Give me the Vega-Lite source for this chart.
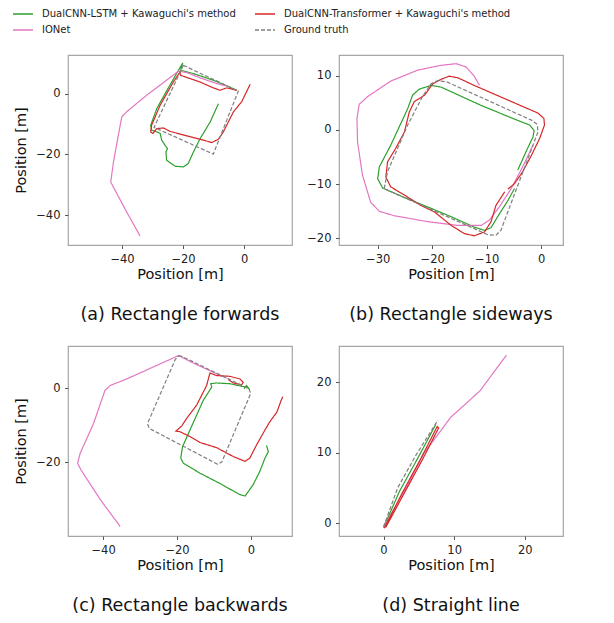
{
"$schema": "https://vega.github.io/schema/vega-lite/v6.json",
"background": "white",
"padding": {"left": 12, "top": 3, "right": 5, "bottom": 5},
"config": {
  "font": "DejaVu Sans",
  "view": {"stroke": "#a6a6a6", "strokeWidth": 1.2},
  "axis": {"domain": false, "grid": false, "tickColor": "#555", "tickSize": 3.5, "tickWidth": 1, "labelFontSize": 11.5, "labelColor": "#222", "labelPadding": 4.5, "titleFontSize": 14.5, "titleFontWeight": "normal", "titleColor": "#111"},
  "axisX": {"titlePadding": 3},
  "axisY": {"titlePadding": 7},
  "legend": {"orient": "none", "legendX": -56, "legendY": -52, "columns": 2, "symbolType": "stroke", "symbolSize": 400, "symbolStrokeWidth": 1.5, "labelFontSize": 10, "labelColor": "#222", "labelLimit": 400, "rowPadding": 0, "columnPadding": 16, "labelOffset": 8, "padding": 0},
  "title": {"fontSize": 17.5, "fontWeight": "normal", "color": "#111"}
},
"datasets": {"traj": [
{"p":"a","s":"DualCNN-LSTM + Kawaguchi's method","i":0,"x":-8.4,"y":-3.3},
{"p":"a","s":"DualCNN-LSTM + Kawaguchi's method","i":1,"x":-11.1,"y":-9.3},
{"p":"a","s":"DualCNN-LSTM + Kawaguchi's method","i":2,"x":-14.4,"y":-14.8},
{"p":"a","s":"DualCNN-LSTM + Kawaguchi's method","i":3,"x":-16.6,"y":-19.2},
{"p":"a","s":"DualCNN-LSTM + Kawaguchi's method","i":4,"x":-18.3,"y":-23.0},
{"p":"a","s":"DualCNN-LSTM + Kawaguchi's method","i":5,"x":-19.9,"y":-24.1},
{"p":"a","s":"DualCNN-LSTM + Kawaguchi's method","i":6,"x":-22.6,"y":-23.9},
{"p":"a","s":"DualCNN-LSTM + Kawaguchi's method","i":7,"x":-25.4,"y":-21.9},
{"p":"a","s":"DualCNN-LSTM + Kawaguchi's method","i":8,"x":-25.6,"y":-19.2},
{"p":"a","s":"DualCNN-LSTM + Kawaguchi's method","i":9,"x":-25.1,"y":-18.1},
{"p":"a","s":"DualCNN-LSTM + Kawaguchi's method","i":10,"x":-25.9,"y":-17.0},
{"p":"a","s":"DualCNN-LSTM + Kawaguchi's method","i":11,"x":-27.0,"y":-15.3},
{"p":"a","s":"DualCNN-LSTM + Kawaguchi's method","i":12,"x":-27.5,"y":-13.1},
{"p":"a","s":"DualCNN-LSTM + Kawaguchi's method","i":13,"x":-28.6,"y":-12.6},
{"p":"a","s":"DualCNN-LSTM + Kawaguchi's method","i":14,"x":-30.3,"y":-12.0},
{"p":"a","s":"DualCNN-LSTM + Kawaguchi's method","i":15,"x":-30.6,"y":-10.4},
{"p":"a","s":"DualCNN-LSTM + Kawaguchi's method","i":16,"x":-28.6,"y":-4.9},
{"p":"a","s":"DualCNN-LSTM + Kawaguchi's method","i":17,"x":-24.3,"y":2.8},
{"p":"a","s":"DualCNN-LSTM + Kawaguchi's method","i":18,"x":-20.1,"y":10.1},
{"p":"a","s":"DualCNN-LSTM + Kawaguchi's method","i":19,"x":-20.8,"y":7.7},
{"p":"a","s":"DualCNN-LSTM + Kawaguchi's method","i":20,"x":-16.6,"y":6.6},
{"p":"a","s":"DualCNN-LSTM + Kawaguchi's method","i":21,"x":-10.1,"y":4.4},
{"p":"a","s":"DualCNN-LSTM + Kawaguchi's method","i":22,"x":-6.2,"y":2.8},
{"p":"a","s":"DualCNN-LSTM + Kawaguchi's method","i":23,"x":-2.4,"y":1.1},
{"p":"a","s":"IONet","i":0,"x":-34.1,"y":-46.8},
{"p":"a","s":"IONet","i":1,"x":-38.5,"y":-38.9},
{"p":"a","s":"IONet","i":2,"x":-43.7,"y":-29.1},
{"p":"a","s":"IONet","i":3,"x":-42.8,"y":-22.5},
{"p":"a","s":"IONet","i":4,"x":-41.2,"y":-13.7},
{"p":"a","s":"IONet","i":5,"x":-40.1,"y":-7.7},
{"p":"a","s":"IONet","i":6,"x":-38.5,"y":-6.0},
{"p":"a","s":"IONet","i":7,"x":-31.9,"y":-0.5},
{"p":"a","s":"IONet","i":8,"x":-25.4,"y":4.4},
{"p":"a","s":"IONet","i":9,"x":-21.5,"y":7.4},
{"p":"a","s":"IONet","i":10,"x":-18.8,"y":6.9},
{"p":"a","s":"IONet","i":11,"x":-14.4,"y":5.2},
{"p":"a","s":"IONet","i":12,"x":-9.0,"y":3.3},
{"p":"a","s":"IONet","i":13,"x":-5.7,"y":2.5},
{"p":"a","s":"DualCNN-Transformer + Kawaguchi's method","i":0,"x":2.0,"y":3.1},
{"p":"a","s":"DualCNN-Transformer + Kawaguchi's method","i":1,"x":-0.8,"y":-2.7},
{"p":"a","s":"DualCNN-Transformer + Kawaguchi's method","i":2,"x":-3.5,"y":-6.0},
{"p":"a","s":"DualCNN-Transformer + Kawaguchi's method","i":3,"x":-6.8,"y":-12.6},
{"p":"a","s":"DualCNN-Transformer + Kawaguchi's method","i":4,"x":-8.4,"y":-15.0},
{"p":"a","s":"DualCNN-Transformer + Kawaguchi's method","i":5,"x":-10.6,"y":-16.1},
{"p":"a","s":"DualCNN-Transformer + Kawaguchi's method","i":6,"x":-14.4,"y":-15.0},
{"p":"a","s":"DualCNN-Transformer + Kawaguchi's method","i":7,"x":-18.8,"y":-13.9},
{"p":"a","s":"DualCNN-Transformer + Kawaguchi's method","i":8,"x":-24.3,"y":-12.4},
{"p":"a","s":"DualCNN-Transformer + Kawaguchi's method","i":9,"x":-26.4,"y":-11.3},
{"p":"a","s":"DualCNN-Transformer + Kawaguchi's method","i":10,"x":-28.6,"y":-11.5},
{"p":"a","s":"DualCNN-Transformer + Kawaguchi's method","i":11,"x":-29.9,"y":-13.1},
{"p":"a","s":"DualCNN-Transformer + Kawaguchi's method","i":12,"x":-30.6,"y":-12.6},
{"p":"a","s":"DualCNN-Transformer + Kawaguchi's method","i":13,"x":-30.3,"y":-10.4},
{"p":"a","s":"DualCNN-Transformer + Kawaguchi's method","i":14,"x":-27.5,"y":-3.8},
{"p":"a","s":"DualCNN-Transformer + Kawaguchi's method","i":15,"x":-23.2,"y":3.8},
{"p":"a","s":"DualCNN-Transformer + Kawaguchi's method","i":16,"x":-21.0,"y":7.1},
{"p":"a","s":"DualCNN-Transformer + Kawaguchi's method","i":17,"x":-20.8,"y":6.0},
{"p":"a","s":"DualCNN-Transformer + Kawaguchi's method","i":18,"x":-19.3,"y":5.5},
{"p":"a","s":"DualCNN-Transformer + Kawaguchi's method","i":19,"x":-14.4,"y":3.8},
{"p":"a","s":"DualCNN-Transformer + Kawaguchi's method","i":20,"x":-10.1,"y":1.9},
{"p":"a","s":"DualCNN-Transformer + Kawaguchi's method","i":21,"x":-7.9,"y":1.1},
{"p":"a","s":"DualCNN-Transformer + Kawaguchi's method","i":22,"x":-5.7,"y":1.9},
{"p":"a","s":"DualCNN-Transformer + Kawaguchi's method","i":23,"x":-2.4,"y":1.1},
{"p":"a","s":"Ground truth","i":0,"x":-19.9,"y":9.3},
{"p":"a","s":"Ground truth","i":1,"x":-1.9,"y":0.8},
{"p":"a","s":"Ground truth","i":2,"x":-10.1,"y":-19.9},
{"p":"a","s":"Ground truth","i":3,"x":-29.5,"y":-11.1},
{"p":"a","s":"Ground truth","i":4,"x":-19.9,"y":9.3},
{"p":"b","s":"DualCNN-LSTM + Kawaguchi's method","i":0,"x":-4.3,"y":-7.4},
{"p":"b","s":"DualCNN-LSTM + Kawaguchi's method","i":1,"x":-2.5,"y":-3.4},
{"p":"b","s":"DualCNN-LSTM + Kawaguchi's method","i":2,"x":-1.5,"y":-1.3},
{"p":"b","s":"DualCNN-LSTM + Kawaguchi's method","i":3,"x":-1.3,"y":-0.1},
{"p":"b","s":"DualCNN-LSTM + Kawaguchi's method","i":4,"x":-2.1,"y":0.9},
{"p":"b","s":"DualCNN-LSTM + Kawaguchi's method","i":5,"x":-3.7,"y":1.5},
{"p":"b","s":"DualCNN-LSTM + Kawaguchi's method","i":6,"x":-11.0,"y":4.5},
{"p":"b","s":"DualCNN-LSTM + Kawaguchi's method","i":7,"x":-18.4,"y":7.9},
{"p":"b","s":"DualCNN-LSTM + Kawaguchi's method","i":8,"x":-20.2,"y":8.2},
{"p":"b","s":"DualCNN-LSTM + Kawaguchi's method","i":9,"x":-22.4,"y":7.5},
{"p":"b","s":"DualCNN-LSTM + Kawaguchi's method","i":10,"x":-23.6,"y":6.4},
{"p":"b","s":"DualCNN-LSTM + Kawaguchi's method","i":11,"x":-24.5,"y":3.9},
{"p":"b","s":"DualCNN-LSTM + Kawaguchi's method","i":12,"x":-27.6,"y":-2.8},
{"p":"b","s":"DualCNN-LSTM + Kawaguchi's method","i":13,"x":-29.7,"y":-6.8},
{"p":"b","s":"DualCNN-LSTM + Kawaguchi's method","i":14,"x":-30.0,"y":-9.0},
{"p":"b","s":"DualCNN-LSTM + Kawaguchi's method","i":15,"x":-29.1,"y":-10.7},
{"p":"b","s":"DualCNN-LSTM + Kawaguchi's method","i":16,"x":-25.7,"y":-12.2},
{"p":"b","s":"DualCNN-LSTM + Kawaguchi's method","i":17,"x":-20.8,"y":-14.2},
{"p":"b","s":"DualCNN-LSTM + Kawaguchi's method","i":18,"x":-16.5,"y":-16.0},
{"p":"b","s":"DualCNN-LSTM + Kawaguchi's method","i":19,"x":-12.3,"y":-17.9},
{"p":"b","s":"DualCNN-LSTM + Kawaguchi's method","i":20,"x":-10.4,"y":-18.5},
{"p":"b","s":"DualCNN-LSTM + Kawaguchi's method","i":21,"x":-9.2,"y":-18.0},
{"p":"b","s":"DualCNN-LSTM + Kawaguchi's method","i":22,"x":-8.0,"y":-16.0},
{"p":"b","s":"DualCNN-LSTM + Kawaguchi's method","i":23,"x":-6.1,"y":-13.0},
{"p":"b","s":"DualCNN-LSTM + Kawaguchi's method","i":24,"x":-4.9,"y":-10.8},
{"p":"b","s":"IONet","i":0,"x":-11.3,"y":8.2},
{"p":"b","s":"IONet","i":1,"x":-12.3,"y":9.9},
{"p":"b","s":"IONet","i":2,"x":-13.8,"y":11.6},
{"p":"b","s":"IONet","i":3,"x":-15.6,"y":12.2},
{"p":"b","s":"IONet","i":4,"x":-18.4,"y":11.9},
{"p":"b","s":"IONet","i":5,"x":-22.7,"y":11.0},
{"p":"b","s":"IONet","i":6,"x":-27.6,"y":9.0},
{"p":"b","s":"IONet","i":7,"x":-31.9,"y":6.1},
{"p":"b","s":"IONet","i":8,"x":-33.4,"y":4.7},
{"p":"b","s":"IONet","i":9,"x":-33.8,"y":2.1},
{"p":"b","s":"IONet","i":10,"x":-33.7,"y":-2.2},
{"p":"b","s":"IONet","i":11,"x":-32.8,"y":-8.3},
{"p":"b","s":"IONet","i":12,"x":-31.3,"y":-13.3},
{"p":"b","s":"IONet","i":13,"x":-29.7,"y":-15.0},
{"p":"b","s":"IONet","i":14,"x":-27.0,"y":-15.8},
{"p":"b","s":"IONet","i":15,"x":-20.8,"y":-16.9},
{"p":"b","s":"IONet","i":16,"x":-15.3,"y":-17.6},
{"p":"b","s":"IONet","i":17,"x":-11.0,"y":-17.6},
{"p":"b","s":"IONet","i":18,"x":-9.5,"y":-16.6},
{"p":"b","s":"IONet","i":19,"x":-7.7,"y":-14.2},
{"p":"b","s":"IONet","i":20,"x":-5.5,"y":-10.8},
{"p":"b","s":"IONet","i":21,"x":-3.4,"y":-6.8},
{"p":"b","s":"IONet","i":22,"x":-1.5,"y":-2.8},
{"p":"b","s":"DualCNN-Transformer + Kawaguchi's method","i":0,"x":-6.7,"y":-11.4},
{"p":"b","s":"DualCNN-Transformer + Kawaguchi's method","i":1,"x":-8.3,"y":-13.9},
{"p":"b","s":"DualCNN-Transformer + Kawaguchi's method","i":2,"x":-9.2,"y":-16.9},
{"p":"b","s":"DualCNN-Transformer + Kawaguchi's method","i":3,"x":-10.4,"y":-18.8},
{"p":"b","s":"DualCNN-Transformer + Kawaguchi's method","i":4,"x":-12.3,"y":-19.5},
{"p":"b","s":"DualCNN-Transformer + Kawaguchi's method","i":5,"x":-14.1,"y":-19.1},
{"p":"b","s":"DualCNN-Transformer + Kawaguchi's method","i":6,"x":-16.5,"y":-17.6},
{"p":"b","s":"DualCNN-Transformer + Kawaguchi's method","i":7,"x":-19.6,"y":-15.1},
{"p":"b","s":"DualCNN-Transformer + Kawaguchi's method","i":8,"x":-22.1,"y":-13.9},
{"p":"b","s":"DualCNN-Transformer + Kawaguchi's method","i":9,"x":-25.1,"y":-12.0},
{"p":"b","s":"DualCNN-Transformer + Kawaguchi's method","i":10,"x":-27.6,"y":-10.5},
{"p":"b","s":"DualCNN-Transformer + Kawaguchi's method","i":11,"x":-28.5,"y":-8.7},
{"p":"b","s":"DualCNN-Transformer + Kawaguchi's method","i":12,"x":-28.2,"y":-5.9},
{"p":"b","s":"DualCNN-Transformer + Kawaguchi's method","i":13,"x":-26.7,"y":-3.4},
{"p":"b","s":"DualCNN-Transformer + Kawaguchi's method","i":14,"x":-25.1,"y":-0.4},
{"p":"b","s":"DualCNN-Transformer + Kawaguchi's method","i":15,"x":-24.2,"y":3.3},
{"p":"b","s":"DualCNN-Transformer + Kawaguchi's method","i":16,"x":-23.3,"y":5.2},
{"p":"b","s":"DualCNN-Transformer + Kawaguchi's method","i":17,"x":-21.4,"y":6.4},
{"p":"b","s":"DualCNN-Transformer + Kawaguchi's method","i":18,"x":-19.9,"y":8.5},
{"p":"b","s":"DualCNN-Transformer + Kawaguchi's method","i":19,"x":-18.4,"y":9.3},
{"p":"b","s":"DualCNN-Transformer + Kawaguchi's method","i":20,"x":-16.9,"y":9.9},
{"p":"b","s":"DualCNN-Transformer + Kawaguchi's method","i":21,"x":-15.3,"y":9.6},
{"p":"b","s":"DualCNN-Transformer + Kawaguchi's method","i":22,"x":-12.3,"y":8.2},
{"p":"b","s":"DualCNN-Transformer + Kawaguchi's method","i":23,"x":-0.6,"y":3.1},
{"p":"b","s":"DualCNN-Transformer + Kawaguchi's method","i":24,"x":0.5,"y":2.1},
{"p":"b","s":"DualCNN-Transformer + Kawaguchi's method","i":25,"x":0.6,"y":0.9},
{"p":"b","s":"DualCNN-Transformer + Kawaguchi's method","i":26,"x":-0.3,"y":-1.6},
{"p":"b","s":"DualCNN-Transformer + Kawaguchi's method","i":27,"x":-1.8,"y":-4.7},
{"p":"b","s":"DualCNN-Transformer + Kawaguchi's method","i":28,"x":-3.4,"y":-7.7},
{"p":"b","s":"DualCNN-Transformer + Kawaguchi's method","i":29,"x":-4.9,"y":-9.9},
{"p":"b","s":"DualCNN-Transformer + Kawaguchi's method","i":30,"x":-6.1,"y":-10.9},
{"p":"b","s":"Ground truth","i":0,"x":-28.8,"y":-10.8},
{"p":"b","s":"Ground truth","i":1,"x":-28.2,"y":-7.7},
{"p":"b","s":"Ground truth","i":2,"x":-24.5,"y":0.9},
{"p":"b","s":"Ground truth","i":3,"x":-21.8,"y":6.1},
{"p":"b","s":"Ground truth","i":4,"x":-20.2,"y":8.5},
{"p":"b","s":"Ground truth","i":5,"x":-19.0,"y":9.1},
{"p":"b","s":"Ground truth","i":6,"x":-17.2,"y":8.8},
{"p":"b","s":"Ground truth","i":7,"x":-1.8,"y":1.8},
{"p":"b","s":"Ground truth","i":8,"x":-0.7,"y":1.0},
{"p":"b","s":"Ground truth","i":9,"x":-0.6,"y":-0.4},
{"p":"b","s":"Ground truth","i":10,"x":-7.4,"y":-18.5},
{"p":"b","s":"Ground truth","i":11,"x":-8.3,"y":-19.4},
{"p":"b","s":"Ground truth","i":12,"x":-9.8,"y":-19.3},
{"p":"b","s":"Ground truth","i":13,"x":-28.2,"y":-11.1},
{"p":"b","s":"Ground truth","i":14,"x":-28.8,"y":-10.8},
{"p":"c","s":"DualCNN-LSTM + Kawaguchi's method","i":0,"x":4.2,"y":-15.5},
{"p":"c","s":"DualCNN-LSTM + Kawaguchi's method","i":1,"x":4.7,"y":-17.2},
{"p":"c","s":"DualCNN-LSTM + Kawaguchi's method","i":2,"x":3.8,"y":-18.9},
{"p":"c","s":"DualCNN-LSTM + Kawaguchi's method","i":3,"x":2.4,"y":-22.5},
{"p":"c","s":"DualCNN-LSTM + Kawaguchi's method","i":4,"x":0.6,"y":-26.1},
{"p":"c","s":"DualCNN-LSTM + Kawaguchi's method","i":5,"x":-1.6,"y":-29.2},
{"p":"c","s":"DualCNN-LSTM + Kawaguchi's method","i":6,"x":-3.0,"y":-28.8},
{"p":"c","s":"DualCNN-LSTM + Kawaguchi's method","i":7,"x":-8.4,"y":-25.8},
{"p":"c","s":"DualCNN-LSTM + Kawaguchi's method","i":8,"x":-13.8,"y":-23.0},
{"p":"c","s":"DualCNN-LSTM + Kawaguchi's method","i":9,"x":-18.3,"y":-20.3},
{"p":"c","s":"DualCNN-LSTM + Kawaguchi's method","i":10,"x":-19.0,"y":-18.9},
{"p":"c","s":"DualCNN-LSTM + Kawaguchi's method","i":11,"x":-18.5,"y":-15.8},
{"p":"c","s":"DualCNN-LSTM + Kawaguchi's method","i":12,"x":-16.9,"y":-12.2},
{"p":"c","s":"DualCNN-LSTM + Kawaguchi's method","i":13,"x":-15.1,"y":-8.2},
{"p":"c","s":"DualCNN-LSTM + Kawaguchi's method","i":14,"x":-12.9,"y":-3.3},
{"p":"c","s":"DualCNN-LSTM + Kawaguchi's method","i":15,"x":-10.6,"y":0.3},
{"p":"c","s":"DualCNN-LSTM + Kawaguchi's method","i":16,"x":-10.9,"y":1.2},
{"p":"c","s":"DualCNN-LSTM + Kawaguchi's method","i":17,"x":-9.3,"y":1.4},
{"p":"c","s":"DualCNN-LSTM + Kawaguchi's method","i":18,"x":-5.7,"y":1.2},
{"p":"c","s":"DualCNN-LSTM + Kawaguchi's method","i":19,"x":-2.5,"y":0.5},
{"p":"c","s":"DualCNN-LSTM + Kawaguchi's method","i":20,"x":-1.2,"y":0.3},
{"p":"c","s":"DualCNN-LSTM + Kawaguchi's method","i":21,"x":-0.5,"y":-0.2},
{"p":"c","s":"DualCNN-LSTM + Kawaguchi's method","i":22,"x":-1.2,"y":0.7},
{"p":"c","s":"DualCNN-LSTM + Kawaguchi's method","i":23,"x":-1.9,"y":-0.2},
{"p":"c","s":"IONet","i":0,"x":-35.4,"y":-37.4},
{"p":"c","s":"IONet","i":1,"x":-40.8,"y":-30.1},
{"p":"c","s":"IONet","i":2,"x":-46.0,"y":-22.1},
{"p":"c","s":"IONet","i":3,"x":-46.9,"y":-20.3},
{"p":"c","s":"IONet","i":4,"x":-46.2,"y":-17.6},
{"p":"c","s":"IONet","i":5,"x":-42.6,"y":-9.6},
{"p":"c","s":"IONet","i":6,"x":-39.5,"y":-0.6},
{"p":"c","s":"IONet","i":7,"x":-38.1,"y":0.7},
{"p":"c","s":"IONet","i":8,"x":-33.6,"y":2.5},
{"p":"c","s":"IONet","i":9,"x":-19.6,"y":8.8},
{"p":"c","s":"IONet","i":10,"x":-15.6,"y":6.8},
{"p":"c","s":"IONet","i":11,"x":-10.2,"y":4.3},
{"p":"c","s":"IONet","i":12,"x":-6.6,"y":2.7},
{"p":"c","s":"DualCNN-Transformer + Kawaguchi's method","i":0,"x":8.6,"y":-2.3},
{"p":"c","s":"DualCNN-Transformer + Kawaguchi's method","i":1,"x":8.1,"y":-3.5},
{"p":"c","s":"DualCNN-Transformer + Kawaguchi's method","i":2,"x":7.0,"y":-6.5},
{"p":"c","s":"DualCNN-Transformer + Kawaguchi's method","i":3,"x":5.1,"y":-9.1},
{"p":"c","s":"DualCNN-Transformer + Kawaguchi's method","i":4,"x":3.8,"y":-11.3},
{"p":"c","s":"DualCNN-Transformer + Kawaguchi's method","i":5,"x":1.5,"y":-15.4},
{"p":"c","s":"DualCNN-Transformer + Kawaguchi's method","i":6,"x":-0.3,"y":-18.9},
{"p":"c","s":"DualCNN-Transformer + Kawaguchi's method","i":7,"x":-1.6,"y":-19.8},
{"p":"c","s":"DualCNN-Transformer + Kawaguchi's method","i":8,"x":-4.8,"y":-18.5},
{"p":"c","s":"DualCNN-Transformer + Kawaguchi's method","i":9,"x":-9.3,"y":-16.1},
{"p":"c","s":"DualCNN-Transformer + Kawaguchi's method","i":10,"x":-13.8,"y":-14.7},
{"p":"c","s":"DualCNN-Transformer + Kawaguchi's method","i":11,"x":-16.5,"y":-13.1},
{"p":"c","s":"DualCNN-Transformer + Kawaguchi's method","i":12,"x":-19.2,"y":-11.8},
{"p":"c","s":"DualCNN-Transformer + Kawaguchi's method","i":13,"x":-20.3,"y":-11.6},
{"p":"c","s":"DualCNN-Transformer + Kawaguchi's method","i":14,"x":-18.7,"y":-10.2},
{"p":"c","s":"DualCNN-Transformer + Kawaguchi's method","i":15,"x":-17.4,"y":-8.2},
{"p":"c","s":"DualCNN-Transformer + Kawaguchi's method","i":16,"x":-14.7,"y":-4.6},
{"p":"c","s":"DualCNN-Transformer + Kawaguchi's method","i":17,"x":-12.0,"y":0.7},
{"p":"c","s":"DualCNN-Transformer + Kawaguchi's method","i":18,"x":-11.1,"y":4.1},
{"p":"c","s":"DualCNN-Transformer + Kawaguchi's method","i":19,"x":-9.3,"y":3.4},
{"p":"c","s":"DualCNN-Transformer + Kawaguchi's method","i":20,"x":-5.7,"y":3.2},
{"p":"c","s":"DualCNN-Transformer + Kawaguchi's method","i":21,"x":-3.0,"y":2.5},
{"p":"c","s":"DualCNN-Transformer + Kawaguchi's method","i":22,"x":-2.1,"y":1.6},
{"p":"c","s":"DualCNN-Transformer + Kawaguchi's method","i":23,"x":-2.5,"y":0.9},
{"p":"c","s":"DualCNN-Transformer + Kawaguchi's method","i":24,"x":-4.8,"y":1.4},
{"p":"c","s":"DualCNN-Transformer + Kawaguchi's method","i":25,"x":-6.1,"y":2.3},
{"p":"c","s":"Ground truth","i":0,"x":-19.6,"y":8.8},
{"p":"c","s":"Ground truth","i":1,"x":-18.7,"y":8.6},
{"p":"c","s":"Ground truth","i":2,"x":-0.5,"y":-0.2},
{"p":"c","s":"Ground truth","i":3,"x":-0.1,"y":-1.5},
{"p":"c","s":"Ground truth","i":4,"x":-7.9,"y":-20.0},
{"p":"c","s":"Ground truth","i":5,"x":-9.0,"y":-20.6},
{"p":"c","s":"Ground truth","i":6,"x":-27.5,"y":-10.9},
{"p":"c","s":"Ground truth","i":7,"x":-28.0,"y":-9.6},
{"p":"c","s":"Ground truth","i":8,"x":-20.5,"y":7.7},
{"p":"c","s":"Ground truth","i":9,"x":-19.6,"y":8.8},
{"p":"d","s":"DualCNN-LSTM + Kawaguchi's method","i":0,"x":0.0,"y":-0.6},
{"p":"d","s":"DualCNN-LSTM + Kawaguchi's method","i":1,"x":2.3,"y":4.6},
{"p":"d","s":"DualCNN-LSTM + Kawaguchi's method","i":2,"x":5.0,"y":9.5},
{"p":"d","s":"DualCNN-LSTM + Kawaguchi's method","i":3,"x":7.4,"y":14.0},
{"p":"d","s":"IONet","i":0,"x":0.0,"y":-0.6},
{"p":"d","s":"IONet","i":1,"x":1.6,"y":2.2},
{"p":"d","s":"IONet","i":2,"x":3.4,"y":5.4},
{"p":"d","s":"IONet","i":3,"x":5.7,"y":9.9},
{"p":"d","s":"IONet","i":4,"x":8.1,"y":13.1},
{"p":"d","s":"IONet","i":5,"x":9.5,"y":15.0},
{"p":"d","s":"IONet","i":6,"x":11.4,"y":16.7},
{"p":"d","s":"IONet","i":7,"x":13.7,"y":18.8},
{"p":"d","s":"IONet","i":8,"x":15.6,"y":21.4},
{"p":"d","s":"IONet","i":9,"x":17.4,"y":23.8},
{"p":"d","s":"DualCNN-Transformer + Kawaguchi's method","i":0,"x":0.1,"y":-0.7},
{"p":"d","s":"DualCNN-Transformer + Kawaguchi's method","i":1,"x":2.6,"y":4.2},
{"p":"d","s":"DualCNN-Transformer + Kawaguchi's method","i":2,"x":5.3,"y":9.2},
{"p":"d","s":"DualCNN-Transformer + Kawaguchi's method","i":3,"x":7.6,"y":13.7},
{"p":"d","s":"DualCNN-Transformer + Kawaguchi's method","i":4,"x":7.8,"y":13.5},
{"p":"d","s":"DualCNN-Transformer + Kawaguchi's method","i":5,"x":5.5,"y":9.0},
{"p":"d","s":"DualCNN-Transformer + Kawaguchi's method","i":6,"x":0.3,"y":-0.6},
{"p":"d","s":"Ground truth","i":0,"x":0.0,"y":-0.5},
{"p":"d","s":"Ground truth","i":1,"x":2.0,"y":5.0},
{"p":"d","s":"Ground truth","i":2,"x":4.5,"y":9.5},
{"p":"d","s":"Ground truth","i":3,"x":7.7,"y":14.6}
]},
"resolve": {"scale": {"x": "independent", "y": "independent", "color": "shared", "strokeDash": "shared"}, "legend": {"color": "shared", "strokeDash": "shared"}},
"columns": 2,
"spacing": {"row": 20, "column": 13},
"concat": [
{
  "width": 224, "height": 190,
  "data": {"name": "traj"},
  "transform": [{"filter": "datum.p == 'a'"}],
  "title": {"text": "(a) Rectangle forwards", "orient": "bottom", "frame": "group", "offset": 25},
  "mark": {"type": "line", "strokeWidth": 1.2, "clip": true},
  "encoding": {
    "x": {"field": "x", "type": "quantitative", "scale": {"domain": [-57.7, 15.7], "nice": false, "zero": false}, "axis": {"values": [-40, -20, 0], "title": "Position [m]"}},
    "y": {"field": "y", "type": "quantitative", "scale": {"domain": [-49.8, 12.7], "nice": false, "zero": false}, "axis": {"values": [-40, -20, 0], "title": "Position [m]"}},
    "color": {"field": "s", "type": "nominal", "scale": {"domain": ["DualCNN-LSTM + Kawaguchi's method", "IONet", "DualCNN-Transformer + Kawaguchi's method", "Ground truth"], "range": ["#2ca02c", "#e377c2", "#d62728", "#7f7f7f"]}, "legend": {"title": null}},
    "strokeDash": {"field": "s", "type": "nominal", "scale": {"domain": ["DualCNN-LSTM + Kawaguchi's method", "IONet", "DualCNN-Transformer + Kawaguchi's method", "Ground truth"], "range": [[1, 0], [1, 0], [1, 0], [4, 2]]}, "legend": {"title": null}},
    "order": {"field": "i", "type": "quantitative"}
  }
},
{
  "width": 224, "height": 190,
  "data": {"name": "traj"},
  "transform": [{"filter": "datum.p == 'b'"}],
  "title": {"text": "(b) Rectangle sideways", "orient": "bottom", "frame": "group", "offset": 25},
  "mark": {"type": "line", "strokeWidth": 1.2, "clip": true},
  "encoding": {
    "x": {"field": "x", "type": "quantitative", "scale": {"domain": [-37.1, 4.0], "nice": false, "zero": false}, "axis": {"values": [-30, -20, -10, 0], "title": "Position [m]"}},
    "y": {"field": "y", "type": "quantitative", "scale": {"domain": [-21.2, 13.8], "nice": false, "zero": false}, "axis": {"values": [-20, -10, 0, 10], "title": null}},
    "color": {"field": "s", "type": "nominal", "scale": {"domain": ["DualCNN-LSTM + Kawaguchi's method", "IONet", "DualCNN-Transformer + Kawaguchi's method", "Ground truth"], "range": ["#2ca02c", "#e377c2", "#d62728", "#7f7f7f"]}, "legend": {"title": null}},
    "strokeDash": {"field": "s", "type": "nominal", "scale": {"domain": ["DualCNN-LSTM + Kawaguchi's method", "IONet", "DualCNN-Transformer + Kawaguchi's method", "Ground truth"], "range": [[1, 0], [1, 0], [1, 0], [4, 2]]}, "legend": {"title": null}},
    "order": {"field": "i", "type": "quantitative"}
  }
},
{
  "width": 224, "height": 190,
  "data": {"name": "traj"},
  "transform": [{"filter": "datum.p == 'c'"}],
  "title": {"text": "(c) Rectangle backwards", "orient": "bottom", "frame": "group", "offset": 25},
  "mark": {"type": "line", "strokeWidth": 1.2, "clip": true},
  "encoding": {
    "x": {"field": "x", "type": "quantitative", "scale": {"domain": [-49.5, 11.1], "nice": false, "zero": false}, "axis": {"values": [-40, -20, 0], "title": "Position [m]"}},
    "y": {"field": "y", "type": "quantitative", "scale": {"domain": [-40.0, 11.4], "nice": false, "zero": false}, "axis": {"values": [-20, 0], "title": "Position [m]"}},
    "color": {"field": "s", "type": "nominal", "scale": {"domain": ["DualCNN-LSTM + Kawaguchi's method", "IONet", "DualCNN-Transformer + Kawaguchi's method", "Ground truth"], "range": ["#2ca02c", "#e377c2", "#d62728", "#7f7f7f"]}, "legend": {"title": null}},
    "strokeDash": {"field": "s", "type": "nominal", "scale": {"domain": ["DualCNN-LSTM + Kawaguchi's method", "IONet", "DualCNN-Transformer + Kawaguchi's method", "Ground truth"], "range": [[1, 0], [1, 0], [1, 0], [4, 2]]}, "legend": {"title": null}},
    "order": {"field": "i", "type": "quantitative"}
  }
},
{
  "width": 224, "height": 190,
  "data": {"name": "traj"},
  "transform": [{"filter": "datum.p == 'd'"}],
  "title": {"text": "(d) Straight line", "orient": "bottom", "frame": "group", "offset": 25},
  "mark": {"type": "line", "strokeWidth": 1.2, "clip": true},
  "encoding": {
    "x": {"field": "x", "type": "quantitative", "scale": {"domain": [-6.3, 25.4], "nice": false, "zero": false}, "axis": {"values": [0, 10, 20], "title": "Position [m]"}},
    "y": {"field": "y", "type": "quantitative", "scale": {"domain": [-1.8, 25.1], "nice": false, "zero": false}, "axis": {"values": [0, 10, 20], "title": null}},
    "color": {"field": "s", "type": "nominal", "scale": {"domain": ["DualCNN-LSTM + Kawaguchi's method", "IONet", "DualCNN-Transformer + Kawaguchi's method", "Ground truth"], "range": ["#2ca02c", "#e377c2", "#d62728", "#7f7f7f"]}, "legend": {"title": null}},
    "strokeDash": {"field": "s", "type": "nominal", "scale": {"domain": ["DualCNN-LSTM + Kawaguchi's method", "IONet", "DualCNN-Transformer + Kawaguchi's method", "Ground truth"], "range": [[1, 0], [1, 0], [1, 0], [4, 2]]}, "legend": {"title": null}},
    "order": {"field": "i", "type": "quantitative"}
  }
}
]
}
